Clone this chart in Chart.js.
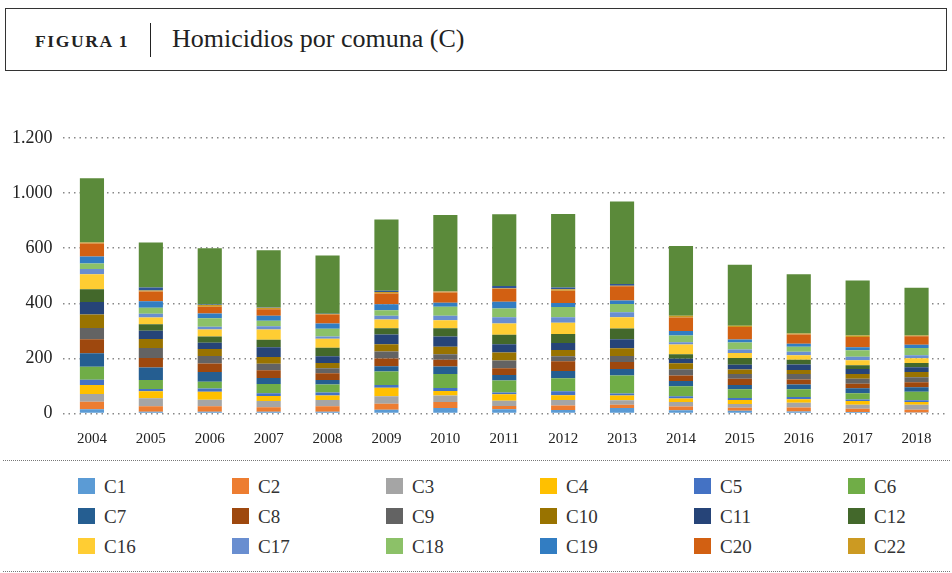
<!DOCTYPE html>
<html>
<head>
<meta charset="utf-8">
<script src="https://cdn.jsdelivr.net/npm/chart.js@4/dist/chart.umd.min.js"></script>
<style>
  body { margin: 0; background: #fff; font-family: "Liberation Serif", serif; color: #222; }
  #page { position: relative; width: 952px; height: 573px; overflow: hidden; }
  #titlebox { position: absolute; left: 5px; top: 8px; width: 940px; height: 61px; border: 1.5px solid #333; }
  #fig { position: absolute; left: 29px; top: 22px; font-size: 17.5px; font-weight: bold; letter-spacing: 1.6px; }
  #sep { position: absolute; left: 144px; top: 14px; width: 1px; height: 34px; background: #222; }
  #ttl { position: absolute; left: 166px; top: 15px; font-size: 26px; }
  #wrap { position: absolute; left: 0; top: 110px; width: 952px; height: 357px; }
  .dots { position: absolute; left: 3px; width: 947px; border-top: 1.5px dotted #777; }
  #legend { position: absolute; left: 78px; top: 478px; display: grid; grid-template-columns: repeat(6, 154px); grid-auto-rows: 30px; }
  .item { display: flex; align-items: flex-start; font-size: 19px; color: #333; }
  .box { width: 17px; height: 16px; margin-right: 9px; margin-top: 0px; }
  .item span.t { line-height: 17px; }
</style>
</head>
<body>
<div id="page">
  <div id="titlebox">
    <div id="fig">FIGURA 1</div>
    <div id="sep"></div>
    <div id="ttl">Homicidios por comuna (C)</div>
  </div>
  <div id="wrap"><canvas id="chart"></canvas></div>
  <div class="dots" style="top:460px"></div>
  <div id="legend"></div>
  <div class="dots" style="top:571px"></div>
</div>
<script>
// años y etiquetas del eje
const years = ['2004','2005','2006','2007','2008','2009','2010','2011','2012','2013','2014','2015','2016','2017','2018'];
const yTickLabels = ['0', '200', '400', '600', '1.000', '1.200'];

// homicidios por comuna
const C1  = [16, 7, 7, 7, 7, 14, 20, 16, 13, 20, 12, 10, 8, 6, 4];
const C2  = [27, 20, 20, 16, 20, 22, 22, 12, 16, 12, 14, 11, 14, 12, 10];
const C3  = [28, 29, 23, 23, 22, 27, 24, 19, 20, 16, 16, 14, 17, 14, 18];
const C4  = [33, 25, 29, 18, 17, 31, 16, 23, 18, 18, 13, 14, 13, 14, 10];
const C5  = [19, 8, 12, 10, 11, 10, 11, 7, 14, 7, 8, 8, 8, 5, 6];
const C6  = [47, 33, 25, 33, 29, 49, 51, 43, 47, 65, 36, 31, 28, 23, 31];
const C7  = [49, 45, 35, 22, 16, 19, 27, 20, 27, 24, 19, 16, 18, 18, 17];
const C8  = [51, 35, 31, 28, 24, 28, 24, 25, 35, 25, 20, 22, 18, 16, 18];
const C9  = [41, 36, 27, 24, 19, 25, 20, 28, 18, 22, 23, 18, 20, 18, 18];
const C10 = [49, 33, 25, 24, 19, 27, 28, 29, 23, 28, 22, 16, 14, 18, 19];
const C11 = [45, 30, 23, 36, 24, 35, 37, 30, 25, 33, 16, 17, 20, 18, 17];
const C12 = [46, 23, 23, 27, 31, 23, 30, 34, 33, 39, 16, 25, 17, 13, 16];
const C16 = [55, 25, 25, 37, 33, 31, 29, 41, 41, 41, 36, 18, 17, 19, 17];
const C17 = [19, 13, 10, 12, 8, 14, 16, 23, 20, 18, 8, 13, 12, 12, 11];
const C18 = [20, 22, 31, 20, 28, 20, 33, 31, 37, 30, 24, 25, 19, 24, 26];
const C19 = [25, 24, 17, 18, 19, 22, 14, 25, 14, 12, 17, 11, 10, 11, 12];
const C20 = [47, 35, 25, 24, 33, 39, 37, 47, 45, 52, 49, 45, 34, 37, 31];
const C22 = [4, 4, 6, 5, 1, 5, 4, 2, 5, 2, 6, 5, 4, 5, 2];
// series sin entrada en la leyenda (franja azul y bloque verde superior)
const otra  = [0, 11, 2, 2, 1, 5, 1, 8, 7, 6, 0, 0, 0, 0, 0];
const resto = [233, 163, 204, 207, 212, 258, 277, 260, 266, 300, 253, 221, 215, 200, 174];

const series = [
  ['C1', C1, '#5B9BD5'], ['C2', C2, '#ED7D31'], ['C3', C3, '#A5A5A5'],
  ['C4', C4, '#FFC000'], ['C5', C5, '#4472C4'], ['C6', C6, '#70AD47'],
  ['C7', C7, '#255E91'], ['C8', C8, '#9E480E'], ['C9', C9, '#636363'],
  ['C10', C10, '#997300'], ['C11', C11, '#264478'], ['C12', C12, '#43682B'],
  ['C16', C16, '#FFCD33'], ['C17', C17, '#698ED0'], ['C18', C18, '#8CC168'],
  ['C19', C19, '#327DC2'], ['C20', C20, '#D26012'], ['C22', C22, '#CC9A22'],
  ['Otra', otra, '#2F5597'], ['Resto', resto, '#5B8A3A']
];
const inLegend = 18;

const datasets = series.map(s => ({
  label: s[0],
  data: s[1],
  backgroundColor: s[2],
  borderWidth: 0,
  barPercentage: 0.41,
  categoryPercentage: 1
}));

const ctx = document.getElementById('chart').getContext('2d');
new Chart(ctx, {
  type: 'bar',
  data: { labels: years, datasets: datasets },
  options: {
    responsive: true,
    maintainAspectRatio: false,
    animation: false,
    layout: { padding: { top: 28, right: 6, bottom: 10, left: 0 } },
    plugins: {
      legend: { display: false },
      tooltip: { enabled: false }
    },
    scales: {
      x: {
        stacked: true,
        grid: { display: false },
        border: { display: false },
        ticks: { color: '#222', padding: 8.7, font: { family: 'Liberation Serif', size: 15 } }
      },
      y: {
        stacked: true,
        min: 0,
        max: 1000,
        afterFit: function (scale) { scale.width = 62.5; },
        grid: { color: '#888', lineWidth: 1.5, drawTicks: false },
        border: { display: false, dash: [1.5, 4] },
        ticks: {
          stepSize: 200,
          padding: 10,
          color: '#222',
          font: { family: 'Liberation Serif', size: 18 },
          callback: function (value, index) { return yTickLabels[index]; }
        }
      }
    }
  }
});

// leyenda en html, 6 columnas
const legend = document.getElementById('legend');
series.slice(0, inLegend).forEach(s => {
  const d = document.createElement('div');
  d.className = 'item';
  d.innerHTML = '<div class="box" style="background:' + s[2] + '"></div><span class="t">' + s[0] + '</span>';
  legend.appendChild(d);
});
</script>
</body>
</html>
